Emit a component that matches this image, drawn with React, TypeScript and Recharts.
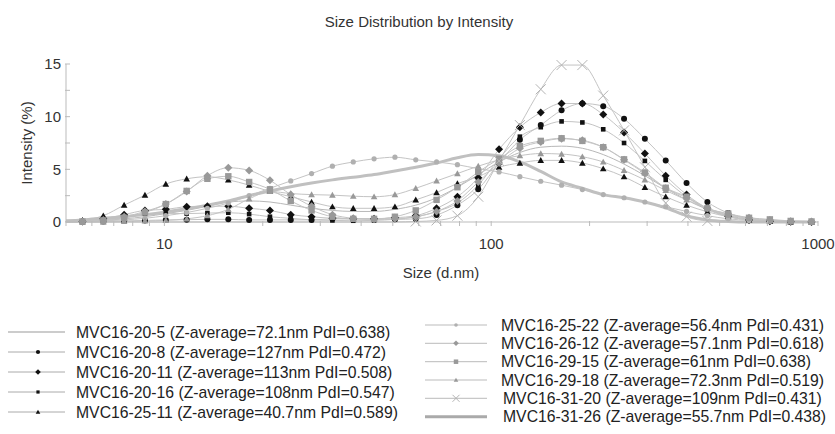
import { LineChart, Line, XAxis, YAxis } from 'recharts'

// size bins (d.nm)
const SIZES = [
  4.849, 5.615, 6.503, 7.531, 8.721, 10.1, 11.7, 13.54, 15.69, 18.17,
  21.04, 24.36, 28.21, 32.67, 37.84, 43.82, 50.75, 58.77, 68.06, 78.82,
  91.28, 105.7, 122.4, 141.8, 164.2, 190.1, 220.2, 255.0, 295.3, 342.0,
  396.1, 458.7, 531.2, 615.1, 712.4, 825.0, 955.4,
]

// intensity (%) per bin
const S20_5 = [0, 0.05, 0.15, 0.3, 0.5, 0.8, 1.1, 1.5, 1.9, 2.0, 1.9, 1.6, 1.3, 1.1, 1.0, 1.0, 1.2, 1.6, 2.3, 3.3, 4.5, 5.7, 6.6, 7.1, 7.2, 7.0, 6.4, 5.5, 4.4, 3.2, 2.1, 1.2, 0.6, 0.25, 0.1, 0.03, 0]
const S20_8 = [0, 0, 0.05, 0.1, 0.15, 0.2, 0.22, 0.25, 0.25, 0.2, 0.2, 0.2, 0.2, 0.3, 0.3, 0.3, 0.25, 0.3, 0.66, 1.6, 3.1, 5.6, 7.8, 9.2, 10.6, 11.25, 11.0, 9.8, 7.9, 5.85, 3.7, 1.9, 0.85, 0.3, 0.1, 0.03, 0]
const S20_11 = [0, 0.05, 0.3, 0.7, 1.1, 1.2, 1.45, 1.5, 1.5, 1.3, 1.1, 0.7, 0.5, 0.35, 0.3, 0.3, 0.4, 0.6, 1.3, 2.4, 4.2, 6.9, 9.0, 10.4, 11.25, 11.25, 10.2, 8.5, 6.5, 4.4, 2.6, 1.3, 0.55, 0.2, 0.07, 0.02, 0]
const S20_16 = [0, 0.02, 0.15, 0.4, 0.8, 0.8, 0.8, 0.85, 0.88, 0.75, 0.5, 0.35, 0.2, 0.15, 0.12, 0.15, 0.25, 0.5, 1.0, 1.8, 3.5, 6.0, 8.1, 9.0, 9.55, 9.45, 8.8, 7.5, 5.8, 4.0, 2.4, 1.2, 0.5, 0.2, 0.06, 0.02, 0]
const S25_11 = [0, 0.15, 0.6, 1.6, 2.55, 3.6, 4.1, 4.3, 4.0, 3.5, 2.9, 2.4, 1.9, 1.45, 1.3, 1.3, 1.45, 2.1, 2.8, 3.65, 4.3, 5.2, 5.6, 5.85, 5.85, 5.6, 5.06, 4.3, 3.3, 2.4, 1.6, 0.97, 0.5, 0.2, 0.08, 0.02, 0]
const S25_22 = [0, 0.05, 0.1, 0.2, 0.35, 0.6, 0.9, 1.3, 1.8, 2.5, 3.2, 3.9, 4.6, 5.3, 5.7, 6.0, 6.15, 5.9, 5.7, 5.44, 5.06, 4.75, 4.3, 3.87, 3.5, 3.08, 2.6, 2.3, 1.9, 1.45, 1.0, 0.6, 0.3, 0.15, 0.05, 0.02, 0]
const S26_12 = [0, 0.05, 0.2, 0.5, 1.0, 1.7, 2.9, 4.4, 5.15, 4.9, 3.96, 2.6, 1.5, 0.7, 0.35, 0.25, 0.3, 0.5, 1.0, 2.0, 3.8, 5.6, 7.0, 7.6, 7.9, 7.75, 7.1, 5.9, 4.6, 3.2, 2.3, 1.3, 0.75, 0.4, 0.2, 0.08, 0.05]
const S29_15 = [0, 0.05, 0.15, 0.4, 0.9, 1.7, 2.95, 4.1, 4.34, 3.8, 3.1, 2.0, 1.1, 0.5, 0.3, 0.3, 0.5, 1.1, 2.1, 3.3, 4.75, 6.0, 7.2, 7.7, 7.95, 7.7, 7.1, 5.95, 4.7, 3.25, 2.4, 1.3, 0.8, 0.4, 0.25, 0.1, 0.05]
const S29_18 = [0, 0, 0, 0.05, 0.1, 0.15, 0.3, 0.6, 1.2, 2.2, 2.9, 2.7, 2.6, 2.55, 2.45, 2.4, 2.6, 3.2, 3.9, 4.6, 5.3, 5.9, 6.3, 6.5, 6.45, 6.2, 5.7, 4.9, 4.0, 3.0, 2.1, 1.3, 0.66, 0.35, 0.15, 0.05, 0]
const S31_20 = [0, 0, 0, 0, 0, 0, 0, 0, 0, 0, 0, 0, 0, 0, 0, 0, 0, 0.05, 0.15, 0.6, 2.4, 5.8, 9.2, 12.6, 14.9, 14.9, 12.0, 8.7, 5.2, 1.8, 0.5, 0.1, 0, 0, 0, 0, 0]
const S31_26 = [0.1, 0.2, 0.35, 0.5, 0.7, 0.95, 1.25, 1.6, 2.0, 2.5, 2.95, 3.35, 3.7, 4.0, 4.25, 4.5, 4.85, 5.2, 5.6, 6.1, 6.4, 6.3, 5.7, 4.8, 3.8, 3.2, 2.6, 2.3, 1.9, 1.35, 0.6, 0.2, 0.05, 0, 0, 0, 0]

const SERIES_VALUES = [S20_5, S20_8, S20_11, S20_16, S25_11, S25_22, S26_12, S29_15, S29_18, S31_20, S31_26]

const SERIES_NAMES = [
  'MVC16-20-5 (Z-average=72.1nm PdI=0.638)',
  'MVC16-20-8 (Z-average=127nm PdI=0.472)',
  'MVC16-20-11 (Z-average=113nm PdI=0.508)',
  'MVC16-20-16 (Z-average=108nm PdI=0.547)',
  'MVC16-25-11 (Z-average=40.7nm PdI=0.589)',
  'MVC16-25-22 (Z-average=56.4nm PdI=0.431)',
  'MVC16-26-12 (Z-average=57.1nm PdI=0.618)',
  'MVC16-29-15 (Z-average=61nm PdI=0.638)',
  'MVC16-29-18 (Z-average=72.3nm PdI=0.519)',
  'MVC16-31-20 (Z-average=109nm PdI=0.431)',
  'MVC16-31-26 (Z-average=55.7nm PdI=0.438)',
]

const X_TICKS = [5, 6, 7, 8, 9, 10, 20, 30, 40, 50, 60, 70, 80, 90, 100, 200, 300, 400, 500, 600, 700, 800, 900, 1000]
const X_LABELED = [10, 100, 1000]
const Y_TICKS = [0, 2.5, 5, 7.5, 10, 12.5, 15]
const Y_LABELED = [0, 5, 10, 15]

const BLACK = '#111'
const GRAY = '#999'
const LINE = '#c4c4c4'

// marker styles, same order as the series
const STYLES = [
  { shape: 'none', color: GRAY, r: 0, width: 1, stroke: '#b8b8b8' },
  { shape: 'circle', color: BLACK, r: 3, width: 1, stroke: LINE },
  { shape: 'diamond', color: BLACK, r: 4, width: 1, stroke: LINE },
  { shape: 'square', color: BLACK, r: 2.3, width: 1, stroke: LINE },
  { shape: 'triangle', color: BLACK, r: 3.3, width: 1, stroke: LINE },
  { shape: 'circle', color: '#b0b0b0', r: 2.6, width: 1, stroke: LINE },
  { shape: 'diamond', color: GRAY, r: 4, width: 1, stroke: LINE },
  { shape: 'square', color: GRAY, r: 3.2, width: 1, stroke: LINE },
  { shape: 'triangle', color: GRAY, r: 3.3, width: 1, stroke: LINE },
  { shape: 'x', color: '#b4b4b4', r: 5, width: 1, stroke: LINE },
  { shape: 'none', color: GRAY, r: 0, width: 3, stroke: '#c0c0c0' },
]

const rows = SIZES.map((size, i) => {
  const row: Record<string, number> = { size }
  SERIES_VALUES.forEach((vals, k) => {
    row['s' + k] = vals[i]
  })
  return row
})

function Marker({ shape, cx, cy, color, r }: { shape: string; cx: number; cy: number; color: string; r: number }) {
  if (shape === 'circle') return <circle cx={cx} cy={cy} r={r} fill={color} />
  if (shape === 'square') return <rect x={cx - r} y={cy - r} width={2 * r} height={2 * r} fill={color} />
  if (shape === 'diamond')
    return <polygon points={`${cx},${cy - r} ${cx + r},${cy} ${cx},${cy + r} ${cx - r},${cy}`} fill={color} />
  if (shape === 'triangle')
    return <polygon points={`${cx},${cy - r} ${cx + r},${cy + r * 0.8} ${cx - r},${cy + r * 0.8}`} fill={color} />
  if (shape === 'x')
    return (
      <g stroke={color} strokeWidth={1}>
        <line x1={cx - r} y1={cy - r} x2={cx + r} y2={cy + r} />
        <line x1={cx - r} y1={cy + r} x2={cx + r} y2={cy - r} />
      </g>
    )
  return null
}

const XTick = (props: any) => {
  const { x, y, payload } = props
  const major = X_LABELED.includes(payload.value)
  return (
    <g>
      <line x1={x} x2={x} y1={y - 1} y2={y + 4} stroke="#bbb" />
      {major && (
        <text x={x} y={y + 27} textAnchor="middle" fontSize={15} fill="#333">
          {payload.value}
        </text>
      )}
    </g>
  )
}

const YTick = (props: any) => {
  const { x, y, payload } = props
  const major = Y_LABELED.includes(payload.value)
  return (
    <g>
      <line x1={x - 1} x2={x + 4} y1={y} y2={y} stroke="#bbb" />
      {major && (
        <text x={x - 5} y={y} dy="0.36em" textAnchor="end" fontSize={15} fill="#333">
          {payload.value}
        </text>
      )}
    </g>
  )
}

const FONT = '"Liberation Sans", Arial, sans-serif'

// legend layout: two columns
const LEFT_ROWS = [332, 352, 372, 392, 412]
const RIGHT_ROWS = [325, 343.3, 361.7, 380, 398.3, 416.7]
const RIGHT_TEXT_X = [501, 501, 501, 501, 503, 503]

export default function App() {
  return (
    <div style={{ position: 'absolute', left: 0, top: 0, width: 835, height: 434, background: '#fff', fontFamily: FONT }}>
      <LineChart width={835} height={300} data={rows} margin={{ top: 64, right: 17, bottom: 48, left: 0 }}>
        <XAxis
          dataKey="size"
          type="number"
          scale="log"
          domain={[5, 1000]}
          allowDataOverflow
          ticks={X_TICKS}
          interval={0}
          tick={<XTick />}
          tickLine={false}
          tickSize={0}
          tickMargin={0}
          height={30}
          axisLine={{ stroke: '#bbb' }}
        />
        <YAxis
          type="number"
          domain={[0, 15]}
          ticks={Y_TICKS}
          interval={0}
          tick={<YTick />}
          tickLine={false}
          tickSize={0}
          tickMargin={0}
          width={66}
          axisLine={{ stroke: '#bbb' }}
        />
        {STYLES.map((st, k) => (
          <Line
            key={k}
            dataKey={'s' + k}
            type="monotone"
            stroke={st.stroke}
            strokeWidth={st.width}
            dot={
              st.shape === 'none'
                ? false
                : (p: any) =>
                    st.shape === 'x' && !p.value ? (
                      <g key={`d${k}-${p.index}`} />
                    ) : (
                      <Marker key={`d${k}-${p.index}`} shape={st.shape} cx={p.cx} cy={p.cy} color={st.color} r={st.r} />
                    )
            }
            activeDot={false}
            isAnimationActive={false}
          />
        ))}
      </LineChart>

      <svg width={835} height={434} style={{ position: 'absolute', left: 0, top: 0, pointerEvents: 'none' }}>
        <text x={419} y={27} textAnchor="middle" fontSize={15} fill="#333">
          Size Distribution by Intensity
        </text>
        <text transform="translate(27,143) rotate(-90)" textAnchor="middle" dy="0.36em" fontSize={15} fill="#333">
          Intensity (%)
        </text>
        <text x={441} y={278} textAnchor="middle" fontSize={15} fill="#333">
          Size (d.nm)
        </text>

        {LEFT_ROWS.map((y, i) => {
          const st = STYLES[i]
          return (
            <g key={'l' + i}>
              <line x1={8} x2={65} y1={y} y2={y} stroke={i === 0 ? '#999' : '#aaa'} strokeWidth={st.width} />
              <Marker shape={st.shape} cx={38} cy={y} color={st.color} r={st.r * 0.7} />
              <text x={76} y={y} dy="0.36em" fontSize={15.75} fill="#222">
                {SERIES_NAMES[i]}
              </text>
            </g>
          )
        })}
        {RIGHT_ROWS.map((y, j) => {
          const i = j + 5
          const st = STYLES[i]
          return (
            <g key={'r' + j}>
              <line x1={425} x2={487} y1={y} y2={y} stroke={st.width > 1 ? '#aaa' : '#bbb'} strokeWidth={st.width} />
              <Marker shape={st.shape} cx={456} cy={y} color={st.color} r={st.r * 0.7} />
              <text x={RIGHT_TEXT_X[j]} y={y} dy="0.36em" fontSize={15.75} fill="#222">
                {SERIES_NAMES[i]}
              </text>
            </g>
          )
        })}
      </svg>
    </div>
  )
}
